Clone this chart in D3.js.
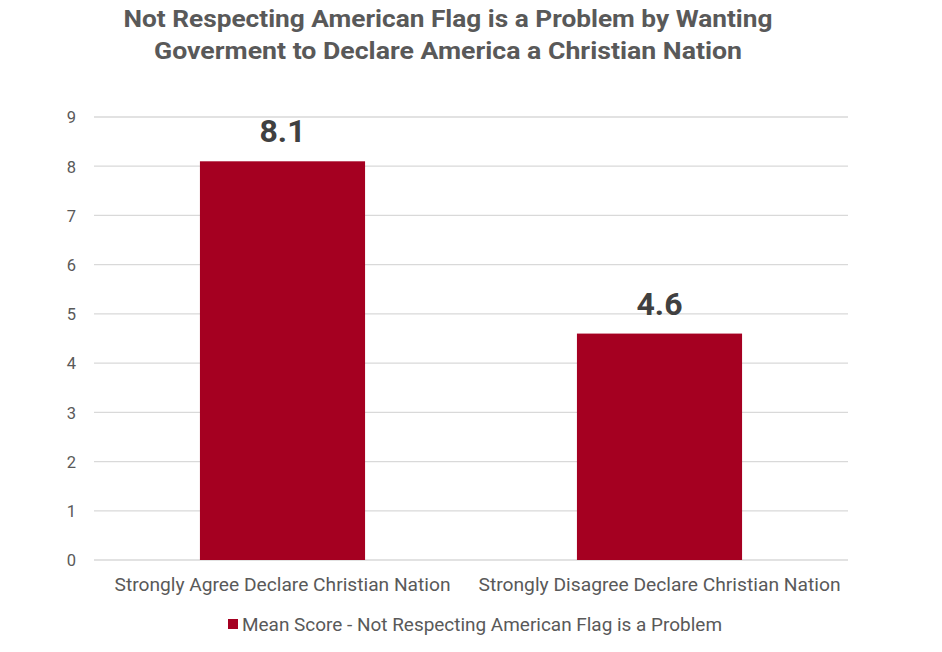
<!DOCTYPE html>
<html><head><meta charset="utf-8">
<script src="https://cdn.jsdelivr.net/npm/d3@7"></script>
<style>body{margin:0;background:#fff}text{font-family:Roboto,"Liberation Sans",sans-serif}</style>
</head><body><svg id="c" width="942" height="652"></svg>
<script>
const titleLines = ["Not Respecting American Flag is a Problem by Wanting", "Goverment to Declare America a Christian Nation"];
const categories = ["Strongly Agree Declare Christian Nation", "Strongly Disagree Declare Christian Nation"];
const values = [8.1, 4.6];
const yTicks = [0,1,2,3,4,5,6,7,8,9];
const seriesName = "Mean Score - Not Respecting American Flag is a Problem";

const svg = d3.select("#c");
const x = d3.scaleBand().domain(categories).range([94, 848]).paddingInner(0.562).paddingOuter(0.281);
const y = d3.scaleLinear().domain([0, 9]).range([560, 117]);
const color = "#A50021";

function fitWidth(sel, w){ sel.each(function(){ const t=d3.select(this); const cur=this.getComputedTextLength(); if(cur>0) t.attr("textLength", w).attr("lengthAdjust","spacingAndGlyphs"); }); }

const titleWidths = [649, 588];
svg.selectAll(".title").data(titleLines).join("text").attr("class","title")
  .attr("x", 448).attr("y", (d,i)=>27+i*32).attr("text-anchor","middle")
  .attr("font-size", 23).attr("font-weight","bold").attr("fill","#595959").text(d=>d)
  .each(function(d,i){ d3.select(this).attr("textLength", titleWidths[i]).attr("lengthAdjust","spacingAndGlyphs"); });

svg.append("g").selectAll("line").data(yTicks).join("line")
  .attr("x1",94).attr("x2",848).attr("y1",d=>y(d)).attr("y2",d=>y(d))
  .attr("stroke","#d9d9d9").attr("stroke-width",1.3);

const ax = svg.append("g").attr("transform","translate(80,0)").call(d3.axisLeft(y).tickValues(yTicks).tickSize(0).tickFormat(d3.format("d")));
ax.select(".domain").remove();
ax.selectAll("text").attr("font-size",16.5).attr("fill","#595959").attr("font-family","Roboto, sans-serif").attr("dy","0.35em").attr("x",-4);

svg.selectAll(".bar").data(values).join("rect")
  .attr("x",(d,i)=>x(categories[i])).attr("width",x.bandwidth())
  .attr("y",d=>y(d)).attr("height",d=>y(0)-y(d)).attr("fill",color);

svg.selectAll(".lbl").data(values).join("text")
  .attr("x",(d,i)=>x(categories[i])+x.bandwidth()/2).attr("y",d=>y(d)-19)
  .attr("text-anchor","middle").attr("font-size",32).attr("font-weight","bold").attr("fill","#404040")
  .text(d=>d3.format(".1f")(d));

const xa = svg.append("g").attr("transform","translate(0,560)").call(d3.axisBottom(x).tickSize(0));
xa.select(".domain").remove();
const catWidths = [336, 362];
xa.selectAll("text").attr("font-size",18).attr("fill","#595959").attr("font-family","Roboto, sans-serif").attr("dy","0").attr("y",31)
  .each(function(d,i){ d3.select(this).attr("textLength", catWidths[i]).attr("lengthAdjust","spacingAndGlyphs"); });

const lg = svg.append("g");
lg.append("rect").attr("x",228).attr("y",619).attr("width",10).attr("height",10).attr("fill",color);
lg.append("text").attr("x",242).attr("y",631).attr("font-size",18).attr("fill","#595959").text(seriesName)
  .attr("textLength",480).attr("lengthAdjust","spacingAndGlyphs");
</script></body></html>
